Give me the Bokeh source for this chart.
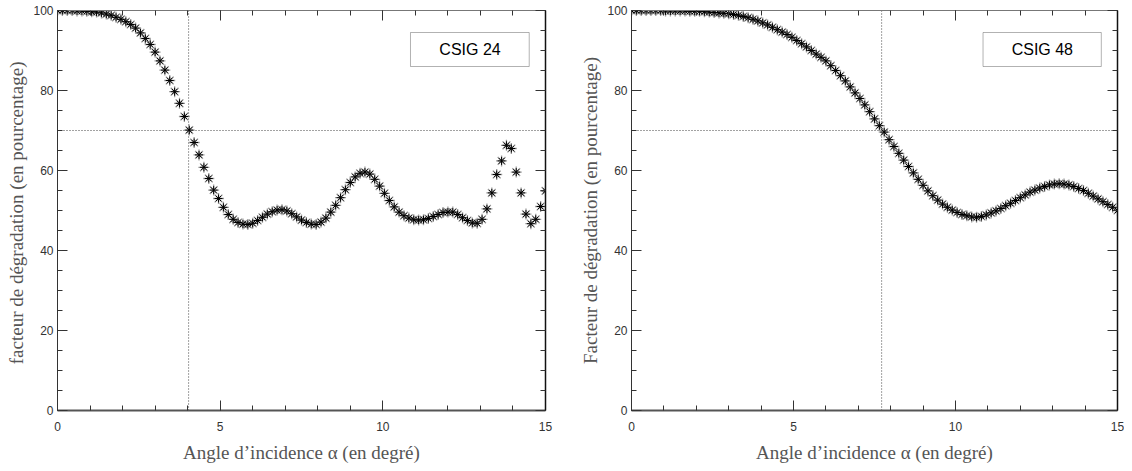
from bokeh.plotting import figure
from bokeh.models import Span, BoxAnnotation, Label, LinearAxis, Range1d, SingleIntervalTicker
from bokeh.layouts import row
from bokeh.embed import file_html
from bokeh.resources import INLINE

# ---------------- data ----------------
angles = [round(0.15 * i, 2) for i in range(101)]  # sampling grid (degrees)

csig24 = [100.0, 100.0, 100.0, 100.0, 99.9, 99.9, 99.8, 99.7, 99.6, 99.4,
          99.1, 98.8, 98.3, 97.8, 97.2, 96.5, 95.6, 94.4, 93.0, 91.5,
          89.6, 87.4, 85.1, 82.5, 79.7, 76.8, 73.5, 70.1, 67.0, 63.9,
          60.8, 58.0, 55.1, 53.0, 50.8, 49.0, 47.8, 47.0, 46.6, 46.5,
          46.8, 47.5, 48.3, 49.1, 49.7, 50.1, 50.2, 49.9, 49.2, 48.4,
          47.6, 47.0, 46.6, 46.5, 47.1, 48.1, 49.6, 51.3, 53.2, 55.2,
          57.0, 58.4, 59.3, 59.6, 59.1, 57.8, 56.1, 54.3, 52.5, 50.9,
          49.6, 48.7, 48.1, 47.7, 47.6, 47.7, 48.0, 48.5, 49.0, 49.5,
          49.6, 49.6, 49.0, 48.2, 47.5, 46.9, 46.8, 47.8, 50.4, 54.4,
          59.0, 62.4, 66.3, 65.5, 59.6, 54.4, 49.1, 46.7, 47.8, 51.0,
          54.9]

csig48 = [100.0, 100.0, 100.0, 100.0, 100.0, 100.0, 100.0, 99.9, 99.9, 99.9,
          99.9, 99.9, 99.8, 99.8, 99.8, 99.7, 99.6, 99.5, 99.4, 99.3,
          99.2, 99.0, 98.8, 98.5, 98.2, 97.8, 97.4, 96.9, 96.4, 95.8,
          95.2, 94.6, 94.0, 93.3, 92.5, 91.7, 90.9, 90.0, 89.1, 88.3,
          87.4, 86.2, 85.0, 83.7, 82.4, 80.9, 79.4, 78.0, 76.4, 74.7,
          72.9, 71.2, 69.6, 67.7, 66.0, 64.3, 62.6, 61.0, 59.4, 57.8,
          56.3, 54.9, 53.7, 52.6, 51.6, 50.8, 50.1, 49.5, 49.0, 48.7,
          48.4, 48.3, 48.5, 48.9, 49.4, 49.9, 50.5, 51.2, 51.8, 52.5,
          53.2, 53.9, 54.6, 55.1, 55.6, 56.0, 56.4, 56.6, 56.7, 56.6,
          56.4, 56.0, 55.5, 55.0, 54.3, 53.6, 52.9, 52.2, 51.5, 50.8,
          50.0]

threshold = 70
crossing = [4.03, 7.72]
names = ["CSIG 24", "CSIG 48"]
ylabels = ["facteur de dégradation  (en pourcentage)",
           "Facteur de dégradation (en pourcentage)"]
xlabel = "Angle d\u2019incidence \u03b1 (en degré)"

TICK_FONT = "Liberation Sans"
LABEL_FONT = "Liberation Serif"


def style_axis(ax, labels=True, line_color="#444", line_width=1):
    ax.major_tick_in = 10
    ax.major_tick_out = 0
    ax.minor_tick_in = 5
    ax.minor_tick_out = 0
    ax.major_tick_line_color = "#333"
    ax.minor_tick_line_color = "#333"
    ax.axis_line_color = line_color
    ax.axis_line_width = line_width
    if labels:
        ax.major_label_text_font = TICK_FONT
        ax.major_label_text_font_size = "12px"
        ax.major_label_text_color = "#333"
    else:
        ax.major_label_text_font_size = "0px"
        ax.major_label_standoff = 0


def make(values, name, ylabel, xcross, width, bl, br):
    p = figure(width=width, height=468,
               x_range=Range1d(0, 15), y_range=Range1d(0, 100),
               output_backend="svg", toolbar_location=None,
               min_border_left=bl, min_border_right=br,
               min_border_top=10, min_border_bottom=58)
    p.xgrid.visible = False
    p.ygrid.visible = False
    p.outline_line_color = None
    p.background_fill_color = "white"
    p.border_fill_color = "white"

    p.xaxis.ticker = SingleIntervalTicker(interval=5, num_minor_ticks=5)
    p.yaxis.ticker = SingleIntervalTicker(interval=20, num_minor_ticks=4)

    xa = p.xaxis[0]
    ya = p.yaxis[0]
    style_axis(xa, True, "#555", 2)
    style_axis(ya, True, "#333", 1)
    xa.major_label_standoff = 11
    ya.major_label_standoff = 4
    xa.axis_label = xlabel
    ya.axis_label = ylabel
    for a in (xa, ya):
        a.axis_label_text_font = LABEL_FONT
        a.axis_label_text_font_size = "19px"
        a.axis_label_text_font_style = "normal"
        a.axis_label_text_color = "#555"
    xa.axis_label_standoff = 8
    ya.axis_label_standoff = 3

    top = LinearAxis(ticker=SingleIntervalTicker(interval=5, num_minor_ticks=5))
    style_axis(top, False, "#777", 1)
    p.add_layout(top, "above")
    right = LinearAxis(ticker=SingleIntervalTicker(interval=20, num_minor_ticks=4))
    style_axis(right, False, "#111", 1.5)
    p.add_layout(right, "right")

    p.add_layout(Span(location=threshold, dimension="width", line_color="#444",
                      line_width=1, line_dash="1 2", level="underlay"))
    p.add_layout(Span(location=xcross, dimension="height", line_color="#444",
                      line_width=1, line_dash="1 2", level="underlay"))

    p.scatter(angles, values, marker="asterisk", size=11, line_color="#9a9a9a",
              line_width=1.3)
    p.scatter(angles, values, marker="asterisk", size=8, line_color="black",
              line_width=1)

    # legend-like box (annotation placed in data space)
    p.add_layout(BoxAnnotation(left=10.85, right=14.5, bottom=86.0, top=94.5,
                               fill_color="white", fill_alpha=1,
                               line_color="black", line_width=1))
    p.add_layout(Label(x=12.68, y=90.25, text=name, text_align="center",
                       text_baseline="middle", text_font=TICK_FONT,
                       text_font_size="16px", text_color="black"))
    return p


p1 = make(csig24, names[0], ylabels[0], crossing[0], 560, 57, 15)
p2 = make(csig48, names[1], ylabels[1], crossing[1], 564, 71, 7)

layout = row(p1, p2)
open("out.html", "w").write(file_html(layout, INLINE))
